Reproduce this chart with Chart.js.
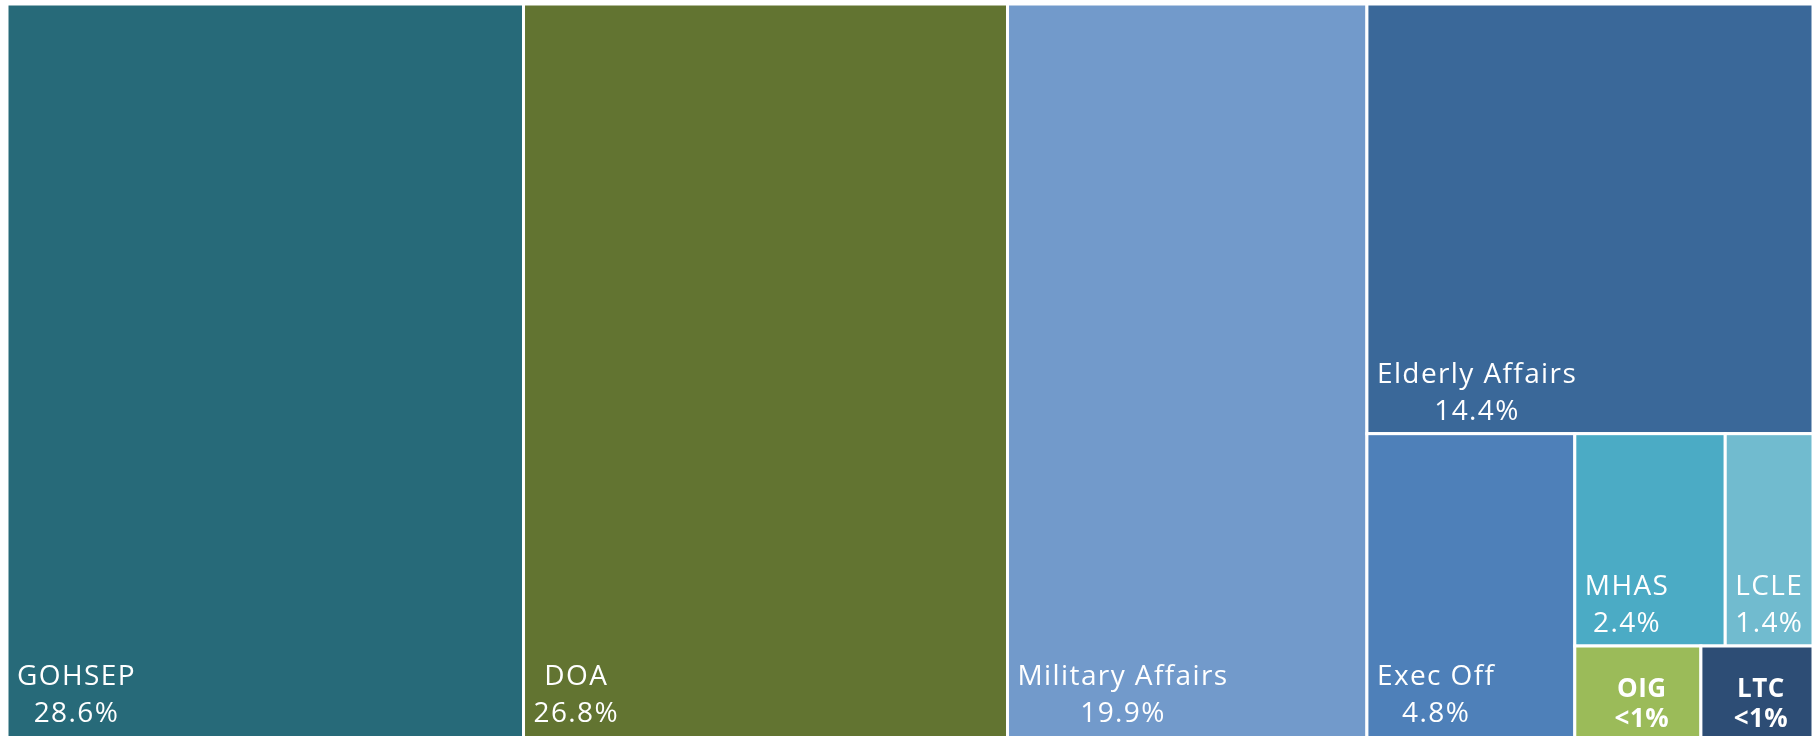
<!DOCTYPE html>
<html>
<head>
<meta charset="utf-8">
<script src="https://cdn.jsdelivr.net/npm/chart.js@4.4.1/dist/chart.umd.min.js"></script>
<style>
  html, body { margin: 0; padding: 0; background: #ffffff; overflow: hidden; }
  #wrap { width: 1817px; height: 741px; }
</style>
</head>
<body>
<div id="wrap"><canvas id="treemap"></canvas></div>
<script>
// Share of budget by agency
const agencies = ['GOHSEP', 'DOA', 'Military Affairs', 'Elderly Affairs', 'Exec Off', 'MHAS', 'LCLE', 'OIG', 'LTC'];
const shares = [28.6, 26.8, 19.9, 14.4, 4.8, 2.4, 1.4, 0.9, 0.8];
const shareLabels = ['28.6%', '26.8%', '19.9%', '14.4%', '4.8%', '2.4%', '1.4%', '<1%', '<1%'];
const colors = ['#276a79', '#627431', '#729acb', '#3a6899', '#4e80b9', '#4babc5', '#71bbcf', '#9bbb59', '#2d4d75'];

// nesting of the cells, split direction alternates per level (columns first)
const nesting = [0, 1, 2, [3, [4, [[5, 6], [7, 8]]]]];

function nodeSum(node) {
    if (Array.isArray(node)) return node.reduce((s, n) => s + nodeSum(n), 0);
    return shares[node];
}

// lays out cells in value space: x 0..100, y 0..100
function layout(node, x0, y0, x1, y1, alongX, out) {
    const total = nodeSum(node);
    let pos = alongX ? x0 : y0;
    node.forEach(child => {
        const frac = nodeSum(child) / total;
        const size = frac * (alongX ? (x1 - x0) : (y1 - y0));
        const box = alongX ? [pos, y0, pos + size, y1] : [x0, pos, x1, pos + size];
        pos += size;
        if (Array.isArray(child)) {
            layout(child, box[0], box[1], box[2], box[3], !alongX, out);
        } else {
            out.push({ i: child, x0: box[0], y0: box[1], x1: box[2], y1: box[3] });
        }
    });
    return out;
}

const cells = layout(nesting, 0, 0, 100, 100, true, []);

const treemapPlugin = {
    id: 'treemapCells',
    afterDatasetsDraw(chart) {
        const ctx = chart.ctx;
        const xs = chart.scales.x;
        const ys = chart.scales.y;
        ctx.save();
        cells.forEach(c => {
            const left = xs.getPixelForValue(c.x0);
            const right = xs.getPixelForValue(c.x1);
            const top = ys.getPixelForValue(c.y0);
            const bottom = ys.getPixelForValue(c.y1);
            ctx.fillStyle = colors[c.i];
            ctx.fillRect(left, top, right - left, bottom - top);
            ctx.strokeStyle = '#ffffff';
            ctx.lineWidth = 3;
            ctx.strokeRect(left, top, right - left, bottom - top);

            // labels sit against the visible bottom edge of the page
            const base = Math.min(bottom, 736);
            const small = (bottom - top) < 120;
            ctx.fillStyle = '#ffffff';
            ctx.textBaseline = 'alphabetic';
            ctx.textAlign = 'center';
            if (small) {
                ctx.font = 'bold 26px "Open Sans"';
                ctx.letterSpacing = '0.5px';
                const cx = (left + right) / 2 + 4;
                ctx.fillText(shareLabels[c.i], cx, base - 9);
                ctx.fillText(agencies[c.i], cx, base - 39);
            } else {
                ctx.font = '28px "Open Sans"';
                ctx.letterSpacing = '1.4px';
                const w = Math.max(ctx.measureText(agencies[c.i]).width, ctx.measureText(shareLabels[c.i]).width);
                const cx = left + 10 + w / 2;
                ctx.fillText(shareLabels[c.i], cx, base - 14);
                ctx.fillText(agencies[c.i], cx, base - 51);
            }
        });
        ctx.restore();
    }
};

new Chart(document.getElementById('treemap'), {
    type: 'scatter',
    data: {
        datasets: [{ data: [] }]
    },
    options: {
        responsive: true,
        maintainAspectRatio: false,
        animation: false,
        layout: { padding: { left: 7, top: 4, right: 4, bottom: 0 } },
        plugins: {
            legend: { display: false },
            tooltip: { enabled: false }
        },
        scales: {
            x: { type: 'linear', min: 0, max: 100, display: false },
            y: { type: 'linear', min: 0, max: 100, reverse: true, display: false }
        }
    },
    plugins: [treemapPlugin]
});
</script>
</body>
</html>
